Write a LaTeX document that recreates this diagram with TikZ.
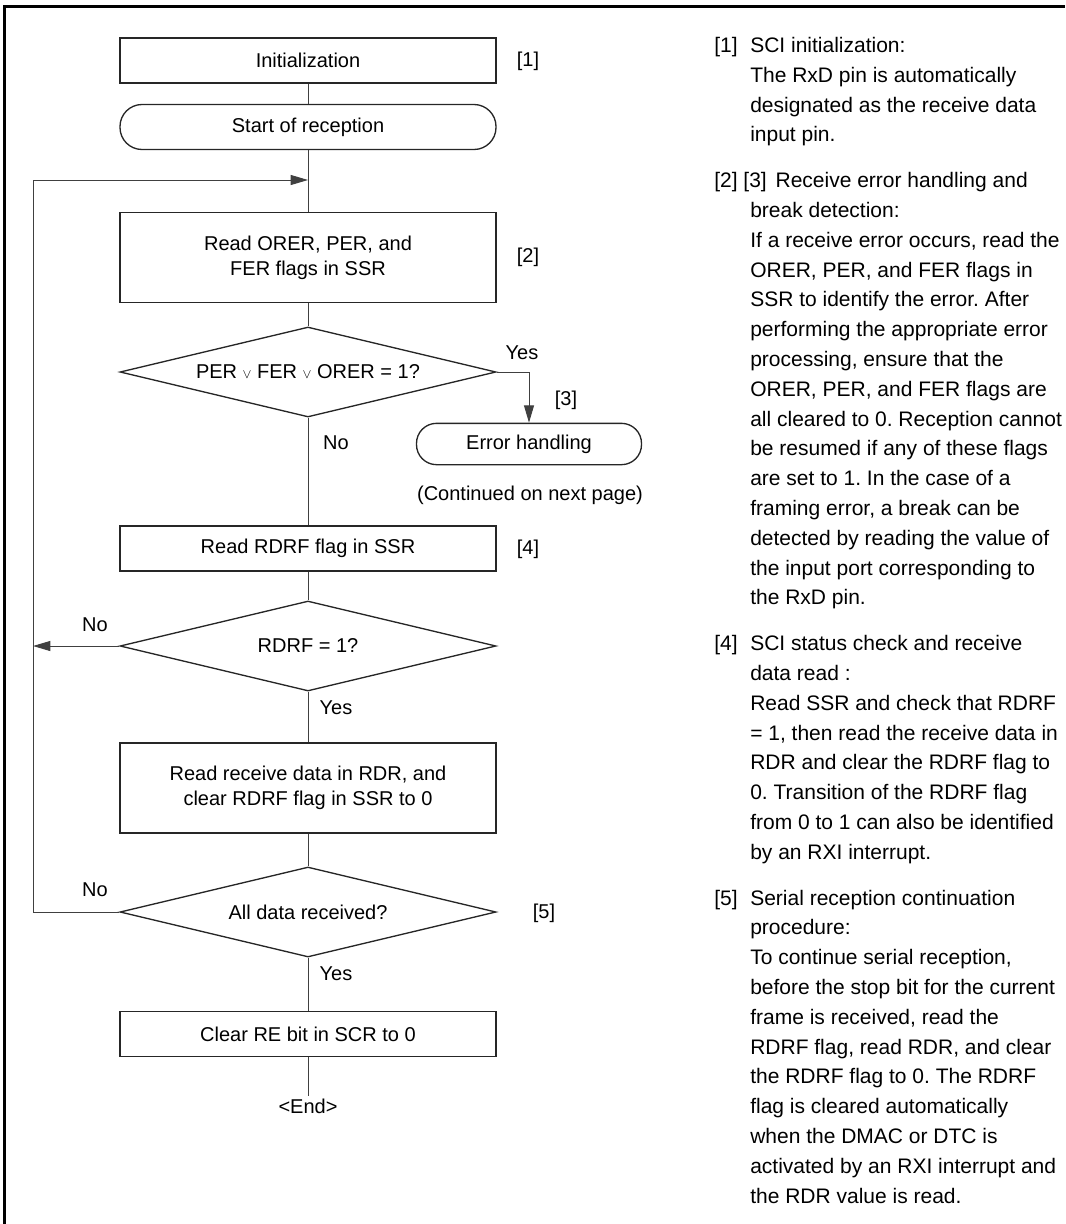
\documentclass[tikz,border=0pt]{standalone}
\usepackage{fontspec}
\setmainfont{Liberation Sans}
\usetikzlibrary{shapes.geometric,arrows.meta}
\frenchspacing
\begin{document}
\begin{tikzpicture}[x=0.75pt,y=-0.75pt,
  every node/.style={font=\fontsize{15}{19}\selectfont},
  conn/.style={draw=black!75, line width=0.75pt},
  procbox/.style={draw=black!85, line width=1pt, minimum width=282pt, inner sep=0pt, align=center},
  termbox/.style={procbox, rounded corners=16.5pt},
  decision/.style={diamond, draw=black!85, line width=1pt, minimum width=282pt, minimum height=67.5pt, shape aspect=4.18, inner sep=0pt},
  arrowed/.style={-{Triangle[length=13pt,width=7.5pt]}},
  lbl/.style={inner sep=0pt}
]
\useasboundingbox (0,0) rectangle (1065,1224);
% frame (top and left edges)
\draw[line width=1.8pt] (4.5,1224) -- (4.5,6.5) -- (1065,6.5);

% flowchart nodes
\node[procbox, minimum height=33.75pt] (init) at (308,60.5) {Initialization};
\node[termbox, minimum height=33.75pt] (start) at (308,127) {Start of reception};
\coordinate (jn) at (308,180);
\node[procbox, minimum height=67.5pt] (read1) at (308,257.5) {Read ORER, PER, and\\FER flags in SSR};
\node[decision] (d1) at (308,372) {PER {\fontsize{10}{10}\selectfont$\vee$} FER {\fontsize{10}{10}\selectfont$\vee$} ORER = 1?};
\node[procbox, rounded corners=15pt, minimum width=168.75pt, minimum height=31pt] (err) at (529,444) {Error handling};
\node[lbl] (cont) at (530,495) {(Continued on next page)};
\node[procbox, minimum height=33.75pt] (rdrf) at (308,548.5) {Read RDRF flag in SSR};
\node[decision] (d2) at (308,646) {RDRF = 1?};
\node[procbox, minimum height=67.5pt] (rdr) at (308,788) {Read receive data in RDR, and\\clear RDRF flag in SSR to 0};
\node[decision] (d3) at (308,912) {All data received?};
\node[procbox, minimum height=33.75pt] (clear) at (308,1034) {Clear RE bit in SCR to 0};
\node[inner sep=2pt] (endn) at (308,1106) {<End>};
\coordinate (l2) at (33,646);
\coordinate (lt) at (33,180);

% step labels
\node[lbl] (n1) at (528,61) {[1]};
\node[lbl] (n2) at (528,257) {[2]};
\node[lbl] (n3) at (566,400) {[3]};
\node[lbl] (n4) at (528,549) {[4]};
\node[lbl] (n5) at (544,913) {[5]};

% connectors
\draw[conn] (init) -- (start);
\draw[conn] (start) -- (read1);
\draw[conn] (read1) -- (d1);
\draw[conn, arrowed] (d1.east) -| (err.north);
\draw[conn] (d1.south) -- (rdrf.north);
\draw[conn] (rdrf) -- (d2);
\draw[conn, arrowed] (d2.west) -- (l2);
\draw[conn] (d2.south) -- (rdr.north);
\draw[conn] (rdr) -- (d3);
\draw[conn, arrowed] (d3.west) -| (lt) -- (jn);
\draw[conn] (d3.south) -- (clear.north);
\draw[conn] (clear.south) -- (endn.north);

% branch labels
\node[lbl] (y1) at (522,353) {Yes};
\node[lbl] (no1) at (336,443) {No};
\node[lbl] (no2) at (95,625) {No};
\node[lbl] (y2) at (336,708) {Yes};
\node[lbl] (no3) at (95,890) {No};
\node[lbl] (y3) at (336,974) {Yes};

% description text
\node[anchor=north west, inner sep=0pt, align=left, font=\fontsize{15.75}{22.35}\selectfont] (desc) at (750,37) {%
\llap{\makebox[27pt][l]{[1]}}SCI initialization:\\
The RxD pin is automatically\\
designated as the receive data\\
input pin.\\[12pt]
\llap{\makebox[27pt][l]{[2] [3]}}\hspace{19pt}Receive error handling and\\
break detection:\\
If a receive error occurs, read the\\
ORER, PER, and FER flags in\\
SSR to identify the error. After\\
performing the appropriate error\\
processing, ensure that the\\
ORER, PER, and FER flags are\\
all cleared to 0. Reception cannot\\
be resumed if any of these flags\\
are set to 1. In the case of a\\
framing error, a break can be\\
detected by reading the value of\\
the input port corresponding to\\
the RxD pin.\\[12pt]
\llap{\makebox[27pt][l]{[4]}}SCI status check and receive\\
data read :\\
Read SSR and check that RDRF\\
= 1, then read the receive data in\\
RDR and clear the RDRF flag to\\
0. Transition of the RDRF flag\\
from 0 to 1 can also be identified\\
by an RXI interrupt.\\[12pt]
\llap{\makebox[27pt][l]{[5]}}Serial reception continuation\\
procedure:\\
To continue serial reception,\\
before the stop bit for the current\\
frame is received, read the\\
RDRF flag, read RDR, and clear\\
the RDRF flag to 0. The RDRF\\
flag is cleared automatically\\
when the DMAC or DTC is\\
activated by an RXI interrupt and\\
the RDR value is read.};
\end{tikzpicture}
\end{document}
